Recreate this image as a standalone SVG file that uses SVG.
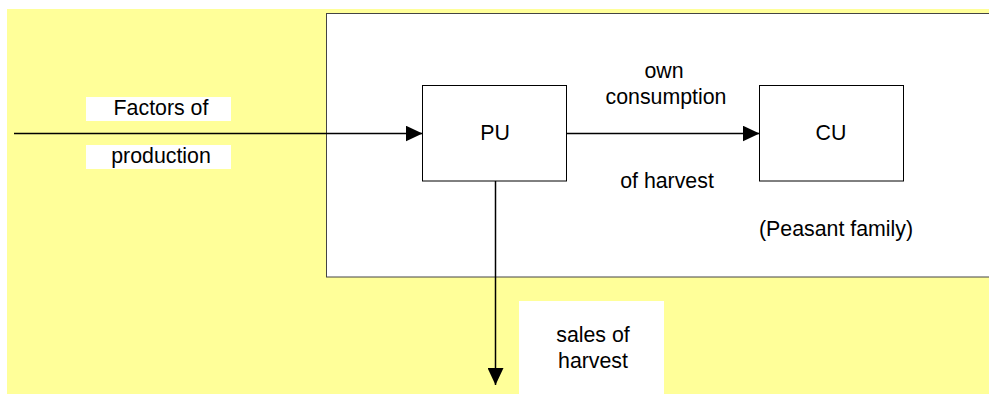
<svg xmlns="http://www.w3.org/2000/svg" width="989" height="394" viewBox="0 0 989 394">
<defs>
<style>
.t{font-family:"Liberation Sans",Arial,sans-serif;font-size:21.33px;fill:#000;text-anchor:middle}
.box{fill:#fff;stroke:#000;stroke-width:1}
.ln{stroke:#000;stroke-width:1.5;fill:none}
</style>
<marker id="ah" markerWidth="17" markerHeight="16" refX="17" refY="8" orient="auto" markerUnits="userSpaceOnUse">
<path d="M0,0 L17,8 L0,16 Z" fill="#000"/>
</marker>
</defs>
<rect x="0" y="0" width="989" height="394" fill="#fff"/>
<rect x="7" y="9" width="982" height="385" fill="#ffff99"/>
<g id="household">
<rect x="326.5" y="13.5" width="670" height="263.5" fill="#fff" stroke="#444" stroke-width="1"/>
<text class="t" x="836" y="236">(Peasant family)</text>
</g>
<g id="factors-label">
<rect x="86" y="97" width="145" height="24" fill="#fff"/>
<rect x="86" y="145" width="145" height="24" fill="#fff"/>
<text class="t" x="161" y="115">Factors of</text>
<text class="t" x="161" y="163">production</text>
</g>
<g id="PU">
<rect class="box" x="422.5" y="85.5" width="144" height="95.5"/>
<text class="t" x="495" y="140">PU</text>
</g>
<g id="CU">
<rect class="box" x="759.5" y="85.5" width="144" height="95.5"/>
<text class="t" x="831" y="140">CU</text>
</g>
<g id="own-consumption-label">
<text class="t" x="664" y="78">own</text>
<text class="t" x="666" y="104">consumption</text>
<text class="t" x="667" y="188">of harvest</text>
</g>
<g id="sales-label">
<rect x="519" y="301" width="145" height="93" fill="#fff"/>
<text class="t" x="593" y="342">sales of</text>
<text class="t" x="593" y="368">harvest</text>
</g>
<g id="connectors">
<line class="ln" x1="14" y1="133.5" x2="422.5" y2="133.5" marker-end="url(#ah)"/>
<line class="ln" x1="566.5" y1="133.5" x2="759.5" y2="133.5" marker-end="url(#ah)"/>
<line class="ln" x1="495.5" y1="181" x2="495.5" y2="385" marker-end="url(#ah)"/>
</g>
</svg>
